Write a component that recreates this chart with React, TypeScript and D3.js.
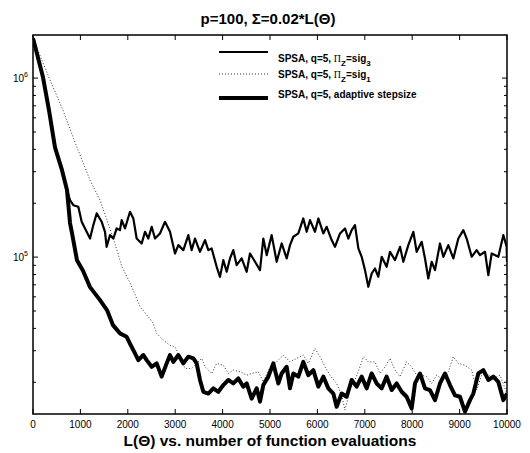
import React from 'react';
import * as d3 from 'd3';

// evaluations / loss values
const sig3Evals = [0, 211, 338, 464, 612, 675, 781, 851, 956, 1027, 1132, 1203, 1273, 1343, 1449, 1519, 1554, 1624, 1695, 1765, 1835, 1871, 1941, 2046, 2117, 2187, 2293, 2363, 2433, 2504, 2574, 2679, 2785, 2890, 2996, 3066, 3172, 3277, 3347, 3418, 3523, 3629, 3699, 3769, 3875, 3945, 4015, 4086, 4156, 4226, 4297, 4402, 4508, 4578, 4684, 4789, 4859, 4930, 5035, 5141, 5246, 5352, 5422, 5492, 5598, 5703, 5774, 5844, 5949, 6020, 6125, 6196, 6301, 6371, 6477, 6582, 6653, 6723, 6793, 6864, 6934, 7004, 7074, 7145, 7215, 7285, 7356, 7461, 7532, 7637, 7743, 7813, 7918, 8024, 8094, 8200, 8270, 8340, 8411, 8481, 8586, 8657, 8762, 8868, 8973, 9079, 9149, 9255, 9360, 9430, 9536, 9606, 9677, 9817, 9923, 9993, 10000];
const sig3Loss = [1.67e6, 1.01e6, 6.6e5, 4.1e5, 3.06e5, 2.62e5, 2.08e5, 1.95e5, 1.91e5, 1.575e5, 1.385e5, 1.27e5, 1.51e5, 1.754e5, 1.575e5, 1.385e5, 1.142e5, 1.327e5, 1.27e5, 1.446e5, 1.415e5, 1.609e5, 1.446e5, 1.792e5, 1.644e5, 1.27e5, 1.192e5, 1.385e5, 1.27e5, 1.477e5, 1.27e5, 1.356e5, 1.575e5, 1.385e5, 1.048e5, 1.167e5, 1.094e5, 1.327e5, 1.094e5, 1.27e5, 1.071e5, 1.245e5, 1.094e5, 1.118e5, 8.83e4, 7.76e4, 9.62e4, 8.28e4, 9.83e4, 1.094e5, 9.02e4, 9.83e4, 8.28e4, 1.048e5, 9.42e4, 8.46e4, 1.27e5, 1.026e5, 1.327e5, 9.42e4, 1.192e5, 9.83e4, 1.167e5, 1.299e5, 1.356e5, 1.644e5, 1.385e5, 1.609e5, 1.385e5, 1.644e5, 1.356e5, 1.477e5, 1.245e5, 1.142e5, 1.356e5, 1.446e5, 1.27e5, 1.415e5, 1.51e5, 1.118e5, 1.004e5, 8.46e4, 6.83e4, 8.1e4, 8.64e4, 7.76e4, 1.004e5, 8.83e4, 1.071e5, 9.62e4, 1.142e5, 9.42e4, 1.167e5, 1.385e5, 1.071e5, 1.218e5, 9.83e4, 7.6e4, 9.42e4, 8.46e4, 1.192e5, 1.004e5, 1.167e5, 9.83e4, 1.27e5, 1.415e5, 1.27e5, 1.004e5, 1.094e5, 1.026e5, 1.071e5, 7.93e4, 1.048e5, 1.004e5, 1.327e5, 1.142e5, 9.42e4];

const sig1Evals = [0, 359, 633, 928, 1203, 1414, 1561, 1688, 1878, 2046, 2257, 2532, 2609, 2750, 2890, 2996, 3101, 3207, 3347, 3558, 3629, 3769, 3875, 4015, 4121, 4226, 4367, 4508, 4613, 4754, 4859, 4965, 5141, 5281, 5422, 5563, 5703, 5809, 5949, 6055, 6160, 6266, 6406, 6512, 6582, 6688, 6793, 6899, 6969, 7074, 7215, 7321, 7426, 7532, 7637, 7743, 7883, 7989, 8094, 8200, 8305, 8411, 8516, 8657, 8762, 8868, 8973, 9113, 9255, 9360, 9466, 9571, 9712, 9852, 10000];
const sig1Loss = [1.67e6, 9.75e5, 6.6e5, 4.1e5, 2.69e5, 2.08e5, 1.61e5, 1.29e5, 8.8e4, 7.2e4, 5.3e4, 4.3e4, 3.75e4, 3.44e4, 3.22e4, 3.15e4, 2.78e4, 2.39e4, 2.39e4, 2.72e4, 2.44e4, 2.24e4, 2.55e4, 2.49e4, 2.24e4, 2.34e4, 2.29e4, 2.19e4, 2.24e4, 2.29e4, 2.01e4, 2.34e4, 2.6e4, 2.84e4, 2.6e4, 2.72e4, 2.84e4, 2.55e4, 3.09e4, 2.78e4, 2.44e4, 2.19e4, 1.97e4, 1.69e4, 1.4e4, 1.81e4, 2.06e4, 2.44e4, 2.78e4, 2.6e4, 2.6e4, 2.24e4, 2.44e4, 2.72e4, 2.34e4, 2.15e4, 2.6e4, 2.44e4, 2.19e4, 2.19e4, 2.15e4, 1.97e4, 2.19e4, 2.06e4, 2.29e4, 2.78e4, 2.55e4, 2.49e4, 2.34e4, 1.81e4, 2.19e4, 2.24e4, 2.1e4, 2.19e4, 1.73e4];

const adaptEvals = [0, 211, 338, 464, 612, 717, 781, 823, 928, 1055, 1203, 1414, 1561, 1688, 1835, 1976, 2046, 2152, 2222, 2328, 2398, 2504, 2609, 2714, 2820, 2890, 2961, 3066, 3172, 3277, 3383, 3453, 3523, 3594, 3699, 3805, 3910, 4015, 4121, 4226, 4332, 4437, 4508, 4613, 4719, 4789, 4859, 4965, 5070, 5176, 5246, 5352, 5422, 5492, 5598, 5703, 5809, 5914, 6020, 6125, 6231, 6336, 6406, 6512, 6617, 6723, 6828, 6934, 7039, 7145, 7250, 7356, 7461, 7567, 7672, 7778, 7883, 7989, 8059, 8165, 8270, 8375, 8481, 8586, 8692, 8797, 8903, 9008, 9113, 9219, 9290, 9395, 9501, 9606, 9712, 9817, 9923, 10000];
const adaptLoss = [1.67e6, 1.01e6, 6.6e5, 4.1e5, 3.06e5, 2.37e5, 1.55e5, 1.36e5, 9.6e4, 8.4e4, 6.8e4, 5.75e4, 5.06e4, 4.17e4, 3.75e4, 3.59e4, 3.29e4, 2.9e4, 2.66e4, 2.84e4, 2.66e4, 2.44e4, 2.55e4, 2.15e4, 2.55e4, 2.84e4, 2.6e4, 2.84e4, 2.55e4, 2.78e4, 2.72e4, 2.55e4, 2.06e4, 1.77e4, 1.73e4, 1.85e4, 1.77e4, 1.93e4, 2.06e4, 1.97e4, 2.1e4, 1.89e4, 1.97e4, 1.62e4, 1.85e4, 1.56e4, 1.93e4, 2.15e4, 2.55e4, 1.97e4, 2.24e4, 2.44e4, 1.85e4, 2.24e4, 2.15e4, 2.6e4, 2.19e4, 2.34e4, 1.89e4, 2.15e4, 1.85e4, 1.73e4, 1.46e4, 1.73e4, 1.66e4, 2.06e4, 1.89e4, 2.15e4, 1.85e4, 2.24e4, 1.97e4, 1.85e4, 2.15e4, 1.81e4, 1.97e4, 1.77e4, 1.66e4, 1.43e4, 1.97e4, 2.24e4, 1.85e4, 1.81e4, 1.59e4, 1.97e4, 2.24e4, 1.93e4, 1.69e4, 1.66e4, 1.37e4, 1.59e4, 1.73e4, 2.24e4, 2.34e4, 2.06e4, 2.15e4, 2.01e4, 1.59e4, 1.73e4];

const xTicks = [0, 1000, 2000, 3000, 4000, 5000, 6000, 7000, 8000, 9000, 10000];
const yMajor = [1e5, 1e6];

const W = 530, H = 453;
const left = 33, right = 507, top = 35, bottom = 414;
const font = '"Liberation Sans", Arial, Helvetica, sans-serif';

export default function App() {
  const x = d3.scaleLinear().domain([0, 10000]).range([left, right]);
  const y = d3.scaleLog().domain([1.33e4, 1.74e6]).range([bottom, top]);
  const [y0, y1] = y.domain();

  // log minor ticks 1..9 per decade
  const minor: number[] = [];
  for (let e = 4; e <= 6; e++) {
    for (let m = 1; m <= 9; m++) {
      const v = m * Math.pow(10, e);
      if (v >= y0 && v <= y1) minor.push(v);
    }
  }

  const line = d3.line<[number, number]>().x(d => x(d[0])).y(d => y(d[1]));
  const pts = (xs: number[], ys: number[]) => xs.map((v, i) => [v, ys[i]] as [number, number]);

  return (
    <svg width={W} height={H} style={{ position: 'absolute', left: 0, top: 0, background: '#fff' }}>
      <rect x={0} y={0} width={W} height={H} fill="#fff" />
      <text x={268} y={24} textAnchor="middle" fontFamily={font} fontWeight="bold" fontSize={15}>
        p=100, Σ=0.02*L(Θ)
      </text>

      <defs>
        <clipPath id="plot">
          <rect x={left} y={top} width={right - left} height={bottom - top} />
        </clipPath>
      </defs>
      <g clipPath="url(#plot)">
        <path d={line(pts(sig1Evals, sig1Loss)) || ''} fill="none" stroke="#333" strokeWidth={1} strokeDasharray="1 2" />
        <path d={line(pts(sig3Evals, sig3Loss)) || ''} fill="none" stroke="#000" strokeWidth={2.2} strokeLinejoin="round" />
        <path d={line(pts(adaptEvals, adaptLoss)) || ''} fill="none" stroke="#000" strokeWidth={4} strokeLinejoin="round" />
      </g>

      <rect x={left} y={top} width={right - left} height={bottom - top} fill="none" stroke="#000" strokeWidth={1.5} />

      {xTicks.map(t => (
        <g key={'x' + t}>
          <line x1={x(t)} x2={x(t)} y1={bottom} y2={bottom - 5} stroke="#000" />
          <line x1={x(t)} x2={x(t)} y1={top} y2={top + 5} stroke="#000" />
          <text x={x(t)} y={428} textAnchor="middle" fontFamily={font} fontSize={10}>{t}</text>
        </g>
      ))}

      {minor.map(v => {
        const len = yMajor.includes(v) ? 5 : 3;
        return (
          <g key={'y' + v}>
            <line x1={left} x2={left + len} y1={y(v)} y2={y(v)} stroke="#000" />
            <line x1={right} x2={right - len} y1={y(v)} y2={y(v)} stroke="#000" />
          </g>
        );
      })}
      {yMajor.map(v => (
        <text key={'yl' + v} x={28} y={y(v) + 4} textAnchor="end" fontFamily={font} fontSize={10}>
          10<tspan dy={-5} fontSize={7}>{Math.round(Math.log10(v))}</tspan>
        </text>
      ))}

      {/* legend */}
      <g fontFamily={font} fontWeight="bold" fontSize={10}>
        <line x1={219} x2={268} y1={52} y2={52} stroke="#000" strokeWidth={2} />
        <text x={278} y={62}>
          SPSA, q=5, <tspan fontFamily='"Liberation Serif", serif' fontWeight="normal">Π</tspan>
          <tspan dy={4} fontSize={8}>Z</tspan><tspan dy={-4}>=sig</tspan><tspan dy={4} fontSize={8}>3</tspan>
        </text>
        <line x1={219} x2={268} y1={74} y2={74} stroke="#333" strokeWidth={1} strokeDasharray="1 2" />
        <text x={278} y={78}>
          SPSA, q=5, <tspan fontFamily='"Liberation Serif", serif' fontWeight="normal">Π</tspan>
          <tspan dy={4} fontSize={8}>Z</tspan><tspan dy={-4}>=sig</tspan><tspan dy={4} fontSize={8}>1</tspan>
        </text>
        <line x1={219} x2={268} y1={98} y2={98} stroke="#000" strokeWidth={4} />
        <text x={278} y={98}>SPSA, q=5, adaptive stepsize</text>
      </g>

      <text x={270} y={446} textAnchor="middle" fontFamily={font} fontWeight="bold" fontSize={15.5}>
        L(Θ) vs. number of function evaluations
      </text>
    </svg>
  );
}
